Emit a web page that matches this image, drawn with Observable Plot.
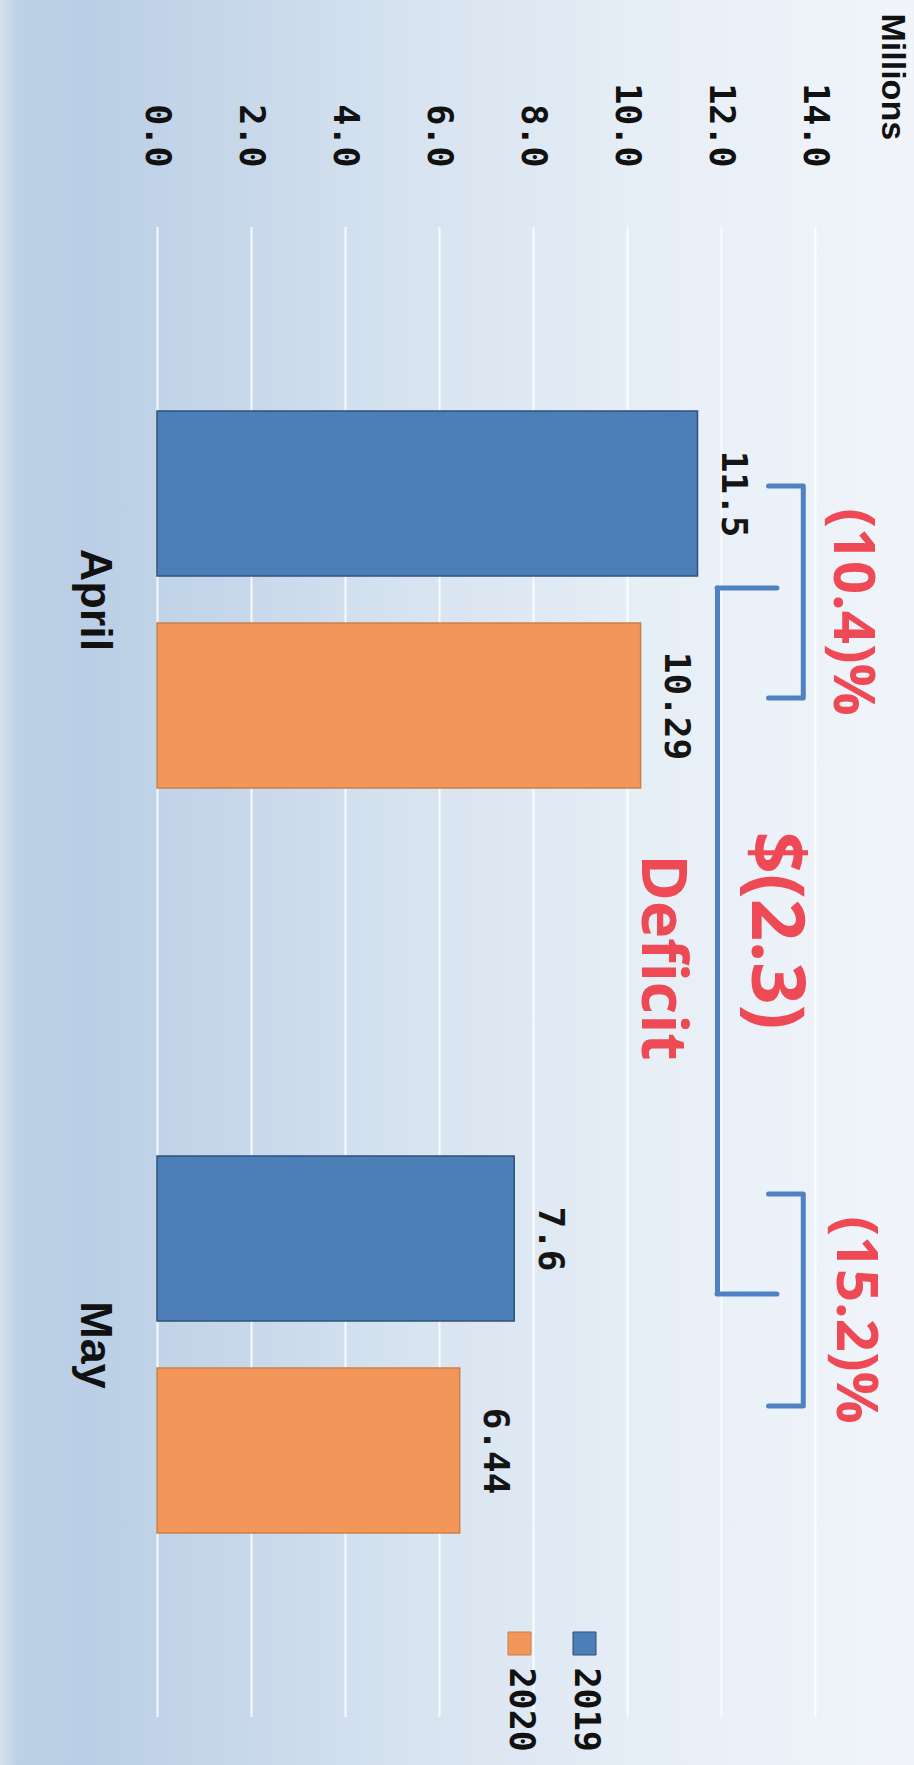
<!DOCTYPE html>
<html>
<head>
<meta charset="utf-8">
<script src="https://cdn.jsdelivr.net/npm/d3@7"></script>
<script src="https://cdn.jsdelivr.net/npm/@observablehq/plot@0.6"></script>
<style>
  html, body { margin: 0; padding: 0; }
  body {
    width: 914px; height: 1765px; overflow: hidden;
    background: linear-gradient(to right, #d6e2ef 0%, #bcd0e6 2%, #bacfe5 10%, #c6d7ea 25%, #d7e3f0 45%, #e6eef6 70%, #f1f5fa 100%);
  }
  #chart svg { display: block; }
</style>
</head>
<body>
<div id="chart"></div>
<script>
// ---- data ----
const months = ["April", "May"];
const years = ["2019", "2020"];
const values2019 = [11.5, 7.6];
const values2020 = [10.29, 6.44];
const labels2019 = ["11.5", "7.6"];
const labels2020 = ["10.29", "6.44"];
const xTicks = [0, 2, 4, 6, 8, 10, 12, 14];
const xTickLabels = ["0.0", "2.0", "4.0", "6.0", "8.0", "10.0", "12.0", "14.0"];
const unitLabel = "Millions";
const changeLabels = ["(10.4)%", "(15.2)%"];
const deficitValue = "$(2.3)";
const deficitText = "Deficit";
// bracket annotation anchors, in millions on the value axis
const smallBracket = [13.0, 13.74];
const bigBracket = [11.915, 13.19];

// ---- styles ----
const seriesColors = ["#4c7fb8", "#f2965a"];
const seriesEdges = ["#2f5079", "#c98049"];
const red = "#ee4a55";
const bracketBlue = "#4f82c2";
const mono = "'DejaVu Sans Mono', monospace";
const sans = "'Liberation Sans', Arial, sans-serif";
const open = "'Open Sans', sans-serif";

const table = months.flatMap((m, i) => [
  {month: m, year: years[0], value: values2019[i], label: labels2019[i]},
  {month: m, year: years[1], value: values2020[i], label: labels2020[i]}
]);

const bracketShift = [-8, -45];
const legendDx = [-231, -296];

const bracketStyle = {stroke: bracketBlue, strokeWidth: 5, strokeLinecap: "round", strokeLinejoin: "round"};
const redText = {x: null, y: null, text: d => d, rotate: 90, textAnchor: "middle", lineAnchor: "middle",
  fontFamily: open, fontWeight: 700, fill: red};

const marks = [
  Plot.ruleX(xTicks, {x: d => d, stroke: "#ffffff", strokeOpacity: 0.85, strokeWidth: 2}),
  Plot.barX(table, {
    fy: "month", y: "year", x: "value", fill: "year",
    stroke: d => seriesEdges[years.indexOf(d.year)], strokeWidth: 1.5
  }),
  Plot.text(table, {
    fy: "month", y: "year", x: "value", text: "label",
    rotate: 90, textAnchor: "middle", lineAnchor: "bottom", dx: 24,
    fontFamily: mono, fontWeight: "bold", fontSize: 36, fill: "#151515"
  }),
  // small brackets between the two years of each month
  ...months.map((m, i) => Plot.line(
    [
      {x: smallBracket[0], y: years[0]},
      {x: smallBracket[1], y: years[0]},
      {x: smallBracket[1], y: years[1]},
      {x: smallBracket[0], y: years[1]}
    ],
    {x: "x", y: "y", fy: () => m, dy: bracketShift[i], ...bracketStyle}
  )),
  // big bracket across the two months
  Plot.ruleX([bigBracket[0]], {x: d => d, fy: () => months[0], insetTop: 361, ...bracketStyle}),
  Plot.ruleX([bigBracket[0]], {x: d => d, fy: () => months[1], insetBottom: 424, ...bracketStyle}),
  Plot.ruleY([0], {y: null, x1: () => bigBracket[0], x2: () => bigBracket[1], fy: () => months[0], dy: -12, ...bracketStyle}),
  Plot.ruleY([0], {y: null, x1: () => bigBracket[0], x2: () => bigBracket[1], fy: () => months[1], dy: -51, ...bracketStyle}),
  // red annotations
  Plot.text([changeLabels[0]], {...redText, fy: () => months[0], frameAnchor: "right", dx: 37, dy: 12, fontSize: 58}),
  Plot.text([changeLabels[1]], {...redText, fy: () => months[1], frameAnchor: "right", dx: 40, dy: -25, fontSize: 58}),
  Plot.text([deficitValue], {...redText, fy: () => months[0], frameAnchor: "bottom-right", dx: -40, dy: -42, fontSize: 74}),
  Plot.text([deficitText], {...redText, fy: () => months[0], frameAnchor: "bottom-right", dx: -153, dy: -15, fontSize: 63}),
  // unit label
  Plot.text([unitLabel], {
    x: null, y: null, text: d => d, fy: () => months[0], frameAnchor: "top-right",
    dx: 77, dy: -214, rotate: 90, textAnchor: "start", lineAnchor: "middle",
    fontFamily: sans, fontWeight: "bold", fontSize: 34, fill: "#111"
  }),
  // legend
  ...years.flatMap((yr, i) => [
    Plot.dot([yr], {
      x: null, y: null, fy: () => months[1], frameAnchor: "bottom-right",
      dx: legendDx[i], dy: -74, symbol: "square", r: 13, fill: d => d,
      stroke: seriesEdges[i], strokeWidth: 1
    }),
    Plot.text([yr], {
      x: null, y: null, text: d => d, fy: () => months[1], frameAnchor: "bottom-right",
      dx: legendDx[i] + 2, dy: -50, rotate: 90, textAnchor: "start", lineAnchor: "middle",
      fontFamily: mono, fontWeight: "bold", fontSize: 35, fill: "#111"
    })
  ]),
  // axes
  Plot.axisX({
    anchor: "top", ticks: xTicks, tickFormat: d => xTickLabels[xTicks.indexOf(d)],
    tickRotate: 90, tickSize: 0, tickPadding: 60, label: null,
    fontFamily: mono, fontWeight: "bold", fontSize: 35
  }),
  Plot.axisFy({
    anchor: "left", tickRotate: 90, tickSize: 0, tickPadding: 45, label: null,
    fontFamily: sans, fontWeight: "bold", fontSize: 45
  })
];

const chart = Plot.plot({
  width: 914,
  height: 1765,
  marginTop: 227,
  marginBottom: 48,
  marginLeft: 157,
  marginRight: 99,
  style: {background: "transparent", overflow: "visible", color: "#111"},
  x: {domain: [0, 14]},
  y: {domain: years, paddingInner: 0.221, paddingOuter: 0.86, axis: null},
  fy: {domain: months, padding: 0},
  color: {domain: years, range: seriesColors},
  marks
});
document.getElementById("chart").appendChild(chart);
</script>
</body>
</html>
